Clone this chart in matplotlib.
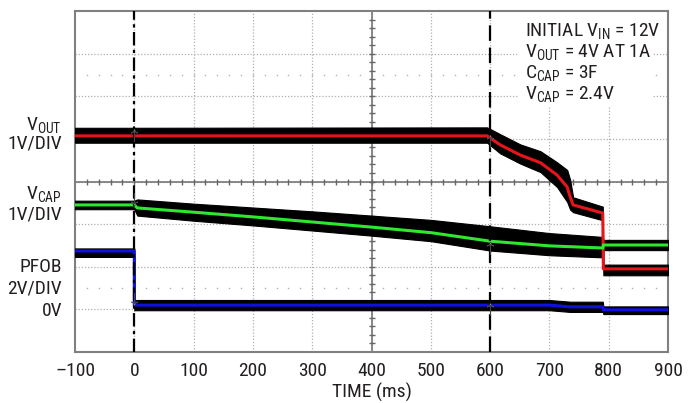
import matplotlib
matplotlib.use("Agg")
import matplotlib.pyplot as plt
from matplotlib import font_manager as fm
from matplotlib.patches import Rectangle
import numpy as np

available = set(f.name for f in fm.fontManager.ttflist)
FONT = 'DejaVu Sans'
for cand in ['Nimbus Sans Narrow', 'Liberation Sans Narrow', 'Arial Narrow',
             'Roboto Condensed', 'PT Sans Narrow', 'Archivo Narrow', 'Open Sans Condensed']:
    if cand in available:
        FONT = cand
        break

plt.rcParams['font.family'] = [FONT, 'DejaVu Sans']
plt.rcParams['mathtext.fontset'] = 'custom'
plt.rcParams['mathtext.rm'] = FONT
plt.rcParams['mathtext.it'] = FONT

# ---- data (scope divisions, 0..8 screen) ----
xticks = [-100, 0, 100, 200, 300, 400, 500, 600, 700, 800, 900]

vout_t = [-100, 0, 595, 617, 651, 685, 713, 730, 735, 740, 790, 791, 900]
vout_v = [5.07, 5.07, 5.07, 4.86, 4.62, 4.44, 4.15, 3.87, 3.64, 3.45, 3.26, 1.95, 1.95]
vout_up = [0.19, 0.19, 0.2, 0.25, 0.25, 0.27, 0.3, 0.4, 0.4, 0.18, 0.15, 0.1, 0.1]
vout_dn = [0.16, 0.16, 0.16, 0.2, 0.2, 0.22, 0.28, 0.35, 0.3, 0.17, 0.17, 0.15, 0.15]

vcap_t = [-100, 0, 5, 100, 200, 300, 400, 500, 600, 700, 790, 791, 900]
vcap_v = [3.45, 3.45, 3.38, 3.28, 3.17, 3.05, 2.93, 2.80, 2.60, 2.49, 2.44, 2.51, 2.51]
vcap_up = [0.1, 0.1, 0.2, 0.2, 0.22, 0.25, 0.27, 0.3, 0.35, 0.3, 0.26, 0.12, 0.12]
vcap_dn = [0.1, 0.1, 0.18, 0.2, 0.2, 0.2, 0.2, 0.2, 0.22, 0.22, 0.22, 0.12, 0.12]

pfob_t = [-100, 0, 0, 700, 735, 790, 791, 900]
pfob_v = [2.37, 2.37, 1.10, 1.10, 1.06, 1.06, 0.99, 0.99]
pfob_up = [0.06, 0.06, 0.12, 0.12, 0.12, 0.12, 0.08, 0.08]
pfob_dn = [0.14, 0.14, 0.12, 0.12, 0.12, 0.12, 0.1, 0.1]

fig = plt.figure(figsize=(6.96, 4.03), dpi=100)
ax = fig.add_axes([75/696, 51/403, 593/696, 341/403])
ax.set_xlim(-100, 900)
ax.set_ylim(0, 8)

# grid
for x in xticks[1:-1]:
    ax.axvline(x, color='#b0b0b0', lw=0.9, ls=(0, (1, 1.5)), zorder=1)
for y in range(1, 8):
    ax.axhline(y, color='#b0b0b0', lw=0.9, ls=(0, (1, 1.5)), zorder=1)
dots = np.arange(-80, 900, 20)
for y in (6.5, 1.5):
    ax.plot(dots, [y]*len(dots), ls='none', marker='s', ms=1.0, mew=0,
            color='#b0b0b0', zorder=1)
# center axes with ticks
ax.axhline(4, color='#777777', lw=1.2, zorder=1)
ax.axvline(400, color='#777777', lw=1.2, zorder=1)
tk = np.arange(-80, 900, 20)
ax.plot(tk, [4]*len(tk), ls='none', marker='|', ms=4, mew=1, color='#666666', zorder=1)
tky = np.arange(0.2, 8, 0.2)
ax.plot([400]*len(tky), tky, ls='none', marker='_', ms=4, mew=1, color='#666666', zorder=1)

# annotation white box
ax.add_patch(Rectangle((0.747, 0.72), 0.228, 0.28, transform=ax.transAxes,
                       facecolor='white', edgecolor='none', zorder=2))

def trace(t, v, up, dn, color):
    t = np.array(t); v = np.array(v)
    ax.fill_between(t, v + np.array(up), v - np.array(dn), color='black', lw=0.8,
                    edgecolor='black', zorder=3)
    ax.plot(t, v, color=color, lw=2.2, zorder=4)

trace(vout_t, vout_v, vout_up, vout_dn, '#e8141c')
trace(vcap_t, vcap_v, vcap_up, vcap_dn, '#2ee82e')
trace(pfob_t, pfob_v, pfob_up, pfob_dn, '#1010e0')

# cursor lines
ax.axvline(0, color='black', lw=1.6, ls=(0, (6, 2, 1.5, 2)), zorder=5)
ax.axvline(600, color='black', lw=1.6, ls=(0, (7, 3)), zorder=5)

# small arrow markers
for (x, y, m) in [(0, 5.1, r'$\uparrow$'), (0, 3.58, r'$\downarrow$'),
                  (0, 1.25, r'$\downarrow$'), (600, 4.95, r'$\uparrow$'),
                  (600, 2.45, r'$\uparrow$'), (600, 1.0, r'$\uparrow$')]:
    ax.plot([x], [y], marker=m, ms=9, color='white', mec='#444444', mew=0.4, zorder=6)

# spines / ticks
for s in ax.spines.values():
    s.set_color('#808080')
    s.set_linewidth(1.5)
ax.set_yticks([])
ax.set_xticks(xticks)
ax.set_xticklabels(['\u2013100'] + [str(x) for x in xticks[1:]])
ax.tick_params(axis='x', length=0, pad=7, labelsize=14, labelcolor='#231f20')
ax.set_xlabel('TIME (ms)', fontsize=14, color='#231f20', labelpad=2)

tr = ax.get_yaxis_transform()
lx = -0.022
kw = dict(transform=tr, ha='right', va='baseline', fontsize=14, color='#231f20')
ax.text(lx, 5.2, r'V$_{\mathrm{OUT}}$', **kw)
ax.text(lx, 4.77, '1V/DIV', **kw)
ax.text(lx, 3.6, r'V$_{\mathrm{CAP}}$', **kw)
ax.text(lx, 3.12, '1V/DIV', **kw)
ax.text(lx, 1.88, 'PFOB', **kw)
ax.text(lx, 1.38, '2V/DIV', **kw)
ax.text(lx, 0.85, '0V', **kw)

akw = dict(ha='left', va='baseline', fontsize=14, color='#231f20', zorder=7)
ax.text(659, 7.42, r'INITIAL V$_{\mathrm{IN}}$ = 12V', **akw)
ax.text(659, 6.92, r'V$_{\mathrm{OUT}}$ = 4V AT 1A', **akw)
ax.text(659, 6.43, r'C$_{\mathrm{CAP}}$ = 3F', **akw)
ax.text(659, 5.94, r'V$_{\mathrm{CAP}}$ = 2.4V', **akw)

fig.savefig('out.png', dpi=100)
